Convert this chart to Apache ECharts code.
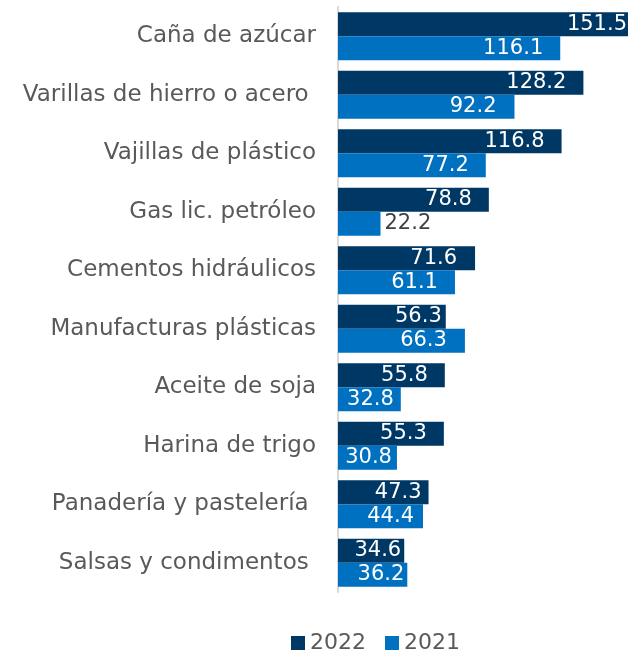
<!DOCTYPE html>
<html>
<head>
<meta charset="utf-8">
<script src="https://cdn.jsdelivr.net/npm/echarts@6/dist/echarts.min.js"></script>
<style>
  html, body { margin: 0; padding: 0; background: #fff; }
  #chart { width: 631px; height: 652px; }
</style>
</head>
<body>
<div id="chart"></div>
<script>
// categories, top to bottom
const categories = [
  'Caña de azúcar',
  'Varillas de hierro o acero ',
  'Vajillas de plástico',
  'Gas lic. petróleo',
  'Cementos hidráulicos',
  'Manufacturas plásticas',
  'Aceite de soja',
  'Harina de trigo',
  'Panadería y pastelería ',
  'Salsas y condimentos '
]
const values2022 = [151.5, 128.2, 116.8, 78.8, 71.6, 56.3, 55.8, 55.3, 47.3, 34.6]
const values2021 = [116.1, 92.2, 77.2, 22.2, 61.1, 66.3, 32.8, 30.8, 44.4, 36.2]

// how far each value label sits from the bar end (px)
const labelGap2022 = [1, 17, 17, 17, 18, 4, 17, 17, 7, 3]
const labelGap2021 = [17, 18, 17, 4, 17, 18, 7, 5, 9, 3]

const font = 'DejaVu Sans'

function withLabels(values, gaps) {
  return values.map((v, i) => {
    if (v < 25) {
      return { value: v, label: { position: 'right', color: '#404040', distance: gaps[i] } }
    }
    return { value: v, label: { distance: gaps[i] } }
  })
}

const chart = echarts.init(document.getElementById('chart'))
chart.setOption({
  backgroundColor: '#ffffff',
  animation: false,
  grid: {
    left: 338,
    right: 3,
    top: 7,
    bottom: 60
  },
  legend: {
    data: ['2022', '2021'],
    top: 627,
    left: 286,
    itemWidth: 14,
    itemHeight: 14,
    itemGap: 19,
    icon: 'rect',
    textStyle: { fontSize: 22, color: '#595959', fontFamily: font }
  },
  xAxis: {
    type: 'value',
    min: 0,
    max: 151.5,
    show: false
  },
  yAxis: {
    type: 'category',
    inverse: true,
    data: categories,
    axisTick: { show: false },
    axisLine: { show: true, lineStyle: { color: '#d9d9d9', width: 2 } },
    axisLabel: {
      fontSize: 23,
      color: '#595959',
      margin: 22,
      fontFamily: font
    }
  },
  series: [
    {
      name: '2022',
      type: 'bar',
      data: withLabels(values2022, labelGap2022),
      barGap: '0%',
      barCategoryGap: '18%',
      itemStyle: { color: '#003865' },
      label: {
        show: true,
        position: 'insideRight',
        color: '#ffffff',
        fontSize: 21,
        fontFamily: font
      }
    },
    {
      name: '2021',
      type: 'bar',
      data: withLabels(values2021, labelGap2021),
      itemStyle: { color: '#0070c0' },
      label: {
        show: true,
        position: 'insideRight',
        color: '#ffffff',
        fontSize: 21,
        fontFamily: font
      }
    }
  ]
})
</script>
</body>
</html>
